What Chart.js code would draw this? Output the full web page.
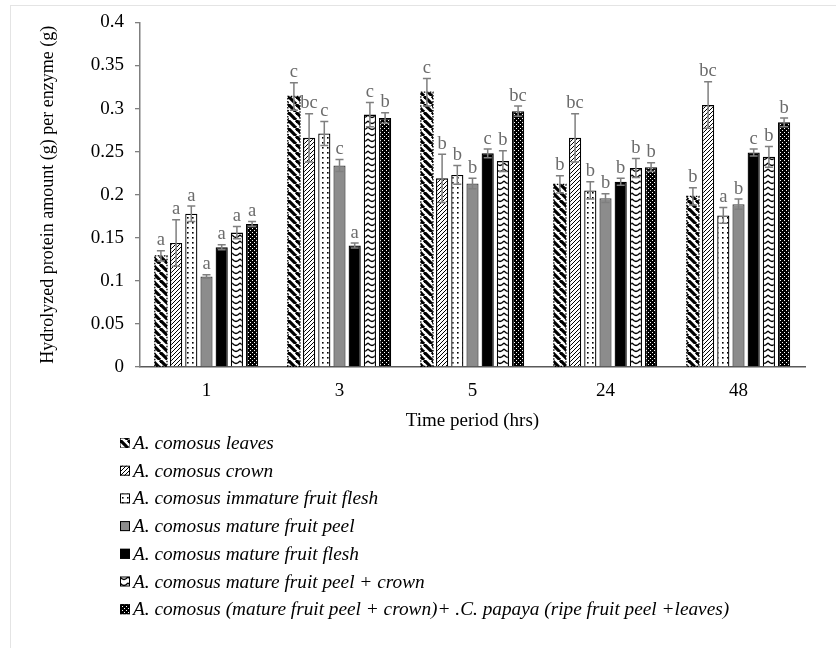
<!DOCTYPE html>
<html>
<head>
<meta charset="utf-8">
<script src="https://cdn.jsdelivr.net/npm/chart.js@4.4.0/dist/chart.umd.min.js"></script>
<style>
  html, body { margin: 0; padding: 0; background: #fff; overflow: hidden; }
  #frame { position: absolute; left: 10px; top: 5px; width: 900px; height: 700px; border: 1px solid #e4e4e4; }
  #c { position: absolute; left: 0; top: 0; }
</style>
</head>
<body>
<div id="frame"></div>
<canvas id="c" width="836" height="648"></canvas>
<script>
const categories = ['1', '3', '5', '24', '48'];
const seriesNames = [
  'A. comosus leaves',
  'A. comosus crown',
  'A. comosus immature fruit flesh',
  'A. comosus mature fruit peel',
  'A. comosus mature fruit flesh',
  'A. comosus mature fruit peel + crown',
  'A. comosus (mature fruit peel + crown)+ .C. papaya (ripe fruit peel +leaves)'
];

const leaves       = [0.129, 0.314, 0.319, 0.212, 0.198];
const crown        = [0.144, 0.266, 0.219, 0.266, 0.304];
const immature     = [0.178, 0.271, 0.223, 0.205, 0.176];
const peel         = [0.105, 0.234, 0.213, 0.196, 0.189];
const flesh        = [0.139, 0.141, 0.248, 0.215, 0.249];
const peelCrown    = [0.156, 0.293, 0.239, 0.231, 0.244];
const mix          = [0.166, 0.289, 0.297, 0.232, 0.284];

const leavesErr    = [0.006, 0.016, 0.016, 0.010, 0.010];
const crownErr     = [0.027, 0.028, 0.028, 0.028, 0.027];
const immatureErr  = [0.009, 0.014, 0.011, 0.010, 0.009];
const peelErr      = [0.002, 0.007, 0.006, 0.005, 0.006];
const fleshErr     = [0.003, 0.003, 0.005, 0.004, 0.004];
const peelCrownErr = [0.007, 0.014, 0.012, 0.011, 0.012];
const mixErr       = [0.003, 0.006, 0.006, 0.005, 0.005];

const leavesLet    = ['a', 'c', 'c', 'b', 'b'];
const crownLet     = ['a', 'bc', 'b', 'bc', 'bc'];
const immatureLet  = ['a', 'c', 'b', 'b', 'a'];
const peelLet      = ['a', 'c', 'b', 'b', 'b'];
const fleshLet     = ['a', 'a', 'c', 'b', 'c'];
const peelCrownLet = ['a', 'c', 'b', 'b', 'b'];
const mixLet       = ['a', 'b', 'bc', 'b', 'b'];

const yMin = 0, yMax = 0.4, yStep = 0.05;

const ctx = document.getElementById('c').getContext('2d');
const serif = '"Liberation Serif", "Times New Roman", serif';

function tile(w, h, bg, draw) {
  const t = document.createElement('canvas');
  t.width = w; t.height = h;
  const g = t.getContext('2d');
  g.fillStyle = bg; g.fillRect(0, 0, w, h);
  draw(g);
  return ctx.createPattern(t, 'repeat');
}

// hatch fills
const patLeaves = tile(8, 8, '#fff', g => {
  g.strokeStyle = '#000'; g.lineWidth = 3.2;
  for (let k = -1; k <= 1; k++) {
    g.beginPath(); g.moveTo(k * 8, 0); g.lineTo(k * 8 + 8, 8); g.stroke();
  }
});
const patCrown = tile(4, 4, '#fff', g => {
  g.strokeStyle = '#000'; g.lineWidth = 1;
  for (let k = -1; k <= 1; k++) {
    g.beginPath(); g.moveTo(k * 4, 4); g.lineTo(k * 4 + 4, 0); g.stroke();
  }
});
const patDots = tile(5, 5, '#fff', g => {
  g.fillStyle = '#000'; g.fillRect(2, 2, 1.6, 1.6);
});
const patWave = tile(8, 6, '#fff', g => {
  g.strokeStyle = '#000'; g.lineWidth = 1.4;
  g.beginPath(); g.moveTo(0, 1); g.quadraticCurveTo(4, 6, 8, 1); g.stroke();
});
const patCheck = tile(4, 4, '#000', g => {
  g.fillStyle = '#fff'; g.fillRect(0, 0, 1, 1); g.fillRect(2, 2, 1, 1);
});

const fills = [patLeaves, patCrown, patDots, '#8c8c8c', '#000000', patWave, patCheck];
const values = [leaves, crown, immature, peel, flesh, peelCrown, mix];
const errors = [leavesErr, crownErr, immatureErr, peelErr, fleshErr, peelCrownErr, mixErr];
const letters = [leavesLet, crownLet, immatureLet, peelLet, fleshLet, peelCrownLet, mixLet];

const datasets = seriesNames.map((name, i) => ({
  label: name,
  data: values[i],
  errors: errors[i],
  letters: letters[i],
  backgroundColor: fills[i],
  borderColor: i === 3 ? '#404040' : '#000',
  borderWidth: i === 0 ? 0 : 1.3,
  categoryPercentage: 0.8,
  barPercentage: 0.8
}));

const extras = {
  id: 'extras',
  afterDatasetsDraw(chart) {
    const c = chart.ctx;
    const ys = chart.scales.y;
    c.save();
    // dotted outline for the leaves series
    chart.getDatasetMeta(0).data.forEach(bar => {
      const w = bar.width;
      c.setLineDash([1.5, 1.5]);
      c.strokeStyle = '#000';
      c.lineWidth = 1.3;
      c.strokeRect(bar.x - w / 2, bar.y, w, bar.base - bar.y);
    });
    c.setLineDash([]);
    chart.data.datasets.forEach((ds, i) => {
      chart.getDatasetMeta(i).data.forEach((bar, j) => {
        const v = ds.data[j], e = ds.errors[j];
        const top = ys.getPixelForValue(v + e);
        const bot = ys.getPixelForValue(v - e);
        c.strokeStyle = '#7f7f7f';
        c.lineWidth = 1.5;
        c.beginPath();
        c.moveTo(bar.x, top); c.lineTo(bar.x, bot);
        c.moveTo(bar.x - 4, top); c.lineTo(bar.x + 4, top);
        c.moveTo(bar.x - 4, bot); c.lineTo(bar.x + 4, bot);
        c.stroke();
        c.fillStyle = '#6b6b6b';
        c.font = '18.5px ' + serif;
        c.textAlign = 'center';
        c.textBaseline = 'bottom';
        c.fillText(ds.letters[j], bar.x, top - 1);
      });
    });
    c.restore();
  },
  afterDraw(chart) {
    const c = chart.ctx;
    c.save();
    chart.data.datasets.forEach((ds, i) => {
      const yc = 443 + i * 27.7;
      c.fillStyle = ds.backgroundColor;
      c.fillRect(120, yc - 5, 10, 10);
      c.strokeStyle = '#000';
      c.lineWidth = 1;
      if (i === 0) c.setLineDash([1, 1]);
      c.strokeRect(120.5, yc - 4.5, 9, 9);
      c.setLineDash([]);
      c.fillStyle = '#000';
      c.font = 'italic 19.3px ' + serif;
      c.textAlign = 'left';
      c.textBaseline = 'middle';
      c.fillText(ds.label, 133, yc + 1);
    });
    c.restore();
  }
};

new Chart(ctx, {
  type: 'bar',
  data: { labels: categories, datasets: datasets },
  plugins: [extras],
  options: {
    responsive: false,
    animation: false,
    layout: { padding: { left: 27, right: 31, top: 20, bottom: 206 } },
    plugins: { legend: { display: false }, tooltip: { enabled: false } },
    scales: {
      x: {
        grid: { display: false, drawTicks: false },
        border: { display: true, color: '#595959', width: 1.5 },
        ticks: { color: '#000', font: { family: serif, size: 19 }, padding: 13 },
        title: {
          display: true, text: 'Time period (hrs)', color: '#000',
          font: { family: serif, size: 19 }, padding: { top: 10, bottom: 10 }
        },
        afterFit(s) { s.height = 75; }
      },
      y: {
        min: yMin, max: yMax,
        grid: { drawOnChartArea: false, drawTicks: true, tickLength: 5, color: '#7f7f7f', lineWidth: 1.3 },
        border: { display: true, color: '#7f7f7f', width: 1.5 },
        ticks: {
          stepSize: yStep, color: '#000', padding: 11,
          font: { family: serif, size: 19 },
          callback: v => String(+v.toFixed(2))
        },
        title: {
          display: true, text: 'Hydrolyzed protein amount (g) per enzyme (g)', color: '#000',
          font: { family: serif, size: 18 }, padding: { top: 10, bottom: 10 }
        },
        afterFit(s) { s.width = 113; }
      }
    }
  }
});
</script>
</body>
</html>
